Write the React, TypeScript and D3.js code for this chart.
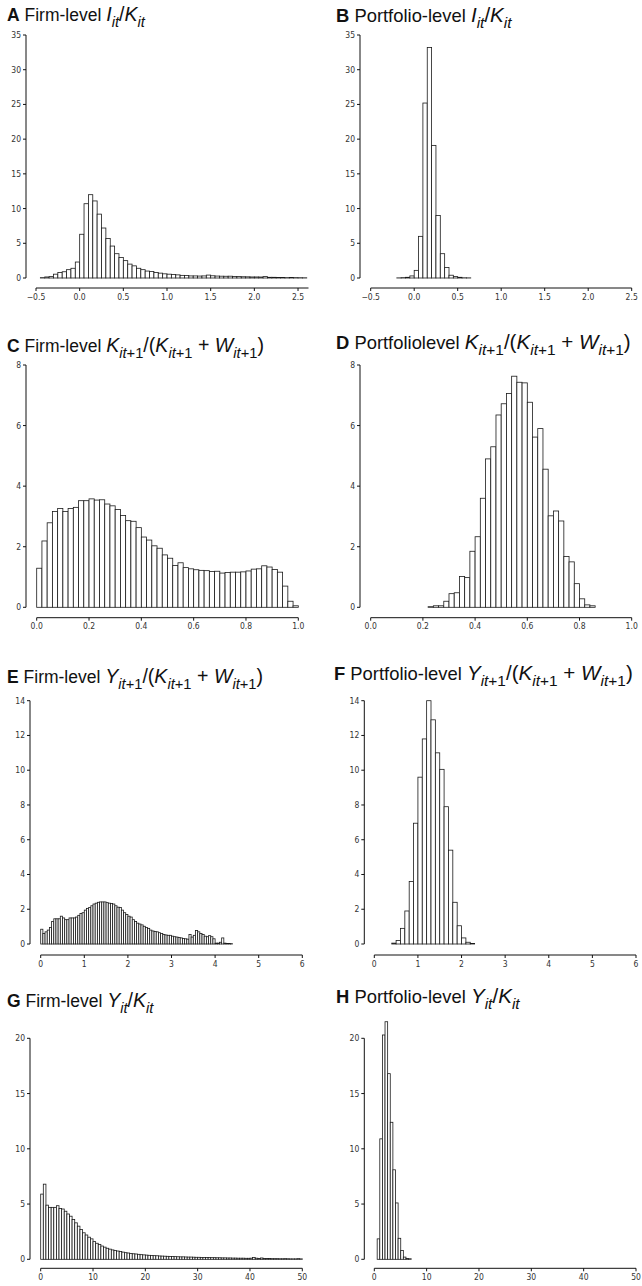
import React from "react";
import * as d3 from "d3";

const firmIK = [
  0.05, 0.15, 0.2, 0.55, 0.8, 0.9, 1.2, 1.4, 2.3, 6.3,
  10.7, 12.0, 11.1, 9.2, 7.2, 5.7, 4.6, 3.5, 2.95, 2.5,
  2.0, 1.75, 1.4, 1.2, 1.0, 0.95, 0.8, 0.7, 0.6, 0.55,
  0.5, 0.45, 0.38, 0.35, 0.3, 0.3, 0.28, 0.3, 0.42, 0.32,
  0.28, 0.26, 0.25, 0.26, 0.22, 0.2, 0.18, 0.17, 0.15, 0.15,
  0.14, 0.2, 0.1, 0.1, 0.08, 0.06, 0.05, 0.08, 0.05, 0.04, 0.03,
];
const firmIKStart = -0.45;
const portIK = [0.02, 0.05, 0.1, 0.3, 1.1, 6.0, 25.2, 33.2, 19.1, 9.0, 3.5, 1.5, 0.4, 0.2, 0.1, 0.03, 0.02];
const portIKStart = -0.2;
const ikBin = 0.05;

const firmKW = [
  1.29, 2.19, 2.79, 3.16, 3.26, 3.16, 3.26, 3.3, 3.52, 3.52,
  3.58, 3.54, 3.55, 3.41, 3.35, 3.23, 3.03, 2.86, 2.84, 2.63,
  2.32, 2.22, 2.03, 1.95, 1.73, 1.62, 1.38, 1.47, 1.31, 1.27,
  1.24, 1.22, 1.21, 1.18, 1.19, 1.13, 1.15, 1.16, 1.16, 1.17,
  1.2, 1.26, 1.27, 1.37, 1.33, 1.25, 1.16, 0.7, 0.2, 0.05,
];
const firmKWStart = 0;
const portKW = [
  0.02, 0.05, 0.05, 0.2, 0.45, 0.48, 1.02, 0.98, 1.85, 2.33,
  3.6, 4.9, 5.3, 6.35, 6.72, 7.06, 7.63, 7.43, 7.41, 6.77,
  5.62, 5.9, 4.56, 3.02, 3.18, 2.85, 1.68, 1.5, 0.78, 0.28, 0.08, 0.05,
];
const portKWStart = 0.22;
const kwBin = 0.02;

const firmYW = [
  0.85, 0.6, 0.7, 0.8, 0.95, 1.3, 1.45, 1.45, 1.45, 1.6,
  1.5, 1.4, 1.4, 1.5, 1.5, 1.5, 1.55, 1.65, 1.75, 1.8,
  1.95, 2.05, 2.1, 2.2, 2.3, 2.35, 2.4, 2.42, 2.42, 2.42,
  2.38, 2.35, 2.33, 2.3, 2.2, 2.12, 2.1, 1.95, 1.8, 1.7,
  1.6, 1.55, 1.4, 1.3, 1.2, 1.15, 1.1, 1.02, 0.95, 0.9,
  0.8, 0.75, 0.72, 0.7, 0.65, 0.6, 0.55, 0.52, 0.5, 0.5,
  0.45, 0.42, 0.4, 0.38, 0.35, 0.32, 0.3, 0.28, 0.55, 0.4,
  0.5, 0.78, 0.7, 0.6, 0.55, 0.45, 0.42, 0.48, 0.42, 0.3,
  0.05, 0.05, 0.1, 0.35, 0.05, 0.03, 0.03, 0.02,
];
const firmYWStart = 0;
const firmYWBin = 0.05;
const portYW = [0.05, 0.2, 0.9, 1.9, 3.6, 6.95, 9.6, 11.8, 14.0, 12.9, 11.0, 10.05, 7.9, 5.4, 2.4, 1.05, 0.35, 0.1, 0.03];
const portYWStart = 0.4;
const portYWBin = 0.1;

const firmYK = [
  5.9, 6.8, 4.9, 4.7, 4.7, 4.7, 4.85, 4.6, 4.55, 4.35,
  4.1, 3.9, 3.6, 3.3, 3.0, 2.7, 2.4, 2.2, 2.0, 1.85,
  1.6, 1.45, 1.35, 1.2, 1.1, 1.0, 0.92, 0.85, 0.8, 0.75,
  0.7, 0.65, 0.6, 0.57, 0.53, 0.5, 0.48, 0.45, 0.42, 0.4,
  0.38, 0.36, 0.35, 0.33, 0.32, 0.3, 0.29, 0.28, 0.27, 0.26,
  0.25, 0.24, 0.23, 0.22, 0.22, 0.21, 0.2, 0.2, 0.19, 0.18,
  0.18, 0.17, 0.17, 0.16, 0.16, 0.15, 0.15, 0.14, 0.14, 0.13,
  0.13, 0.12, 0.12, 0.11, 0.11, 0.1, 0.1, 0.1, 0.09, 0.09,
  0.1, 0.16, 0.1, 0.08, 0.12, 0.08, 0.07, 0.07, 0.06, 0.06,
  0.06, 0.05, 0.05, 0.06, 0.05, 0.04, 0.04, 0.04, 0.06, 0.04,
];
const firmYKStart = 0;
const portYK = [1.85, 10.9, 20.3, 21.5, 16.8, 12.4, 8.1, 5.1, 1.9, 0.8, 0.2, 0.08, 0.05];
const portYKStart = 0.55;
const ykBin = 0.5;

const ikTicks = [-0.5, 0, 0.5, 1, 1.5, 2, 2.5];
const kwTicks = [0, 0.2, 0.4, 0.6, 0.8, 1];
const ywTicks = [0, 1, 2, 3, 4, 5, 6];
const ykTicks = [0, 10, 20, 30, 40, 50];
const ikYTicks = [0, 5, 10, 15, 20, 25, 30, 35];
const kwYTicks = [0, 2, 4, 6, 8];
const ywYTicks = [0, 2, 4, 6, 8, 10, 12, 14];
const ykYTicks = [0, 5, 10, 15, 20];

type Seg = { t: string; i?: boolean; s?: boolean };

// italic variable with subscript "it" (+ optional upright "+1")
const v = (name: string, lead = false): Seg[] => {
  const out: Seg[] = [{ t: name, i: true }, { t: "it", i: true, s: true }];
  if (lead) out.push({ t: "+1", s: true });
  return out;
};
const ikMath: Seg[] = [...v("I"), { t: "/" }, ...v("K")];
const kwMath: Seg[] = [...v("K", true), { t: "/(" }, ...v("K", true), { t: " + " }, ...v("W", true), { t: ")" }];
const ywMath: Seg[] = [...v("Y", true), { t: "/(" }, ...v("K", true), { t: " + " }, ...v("W", true), { t: ")" }];
const ykMath: Seg[] = [...v("Y"), { t: "/" }, ...v("K")];

const titleFont = "'Liberation Sans', Arial, Helvetica, sans-serif";
const tickFont = "'Liberation Sans Narrow', 'Arial Narrow', 'DejaVu Sans Condensed', sans-serif";

function Title({ x, y, size, letter, label, math }: any) {
  let shift = 0;
  const big = size * 1.12;
  const spans = math.map((g: Seg, k: number) => {
    const target = g.s ? size * 0.32 : 0;
    const dy = target - shift;
    shift = target;
    return (
      <tspan key={k} dy={dy} fontStyle={g.i ? "italic" : "normal"} fontSize={g.s ? size * 0.84 : big}>
        {g.t}
      </tspan>
    );
  });
  return (
    <text x={x} y={y} fontSize={size} fontFamily={titleFont} fill="#111" style={{ whiteSpace: "pre" }}>
      <tspan fontWeight="bold">{letter}</tspan>
      <tspan>{" " + label + " "}</tspan>
      {spans}
    </text>
  );
}

function Panel({ p }: any) {
  const x = d3.scaleLinear().domain(p.xDomain).range(p.xRange);
  const y = d3.scaleLinear().domain([0, p.yMax]).range([p.yBottom, p.yTop]);
  const fmt = p.xFmt ? d3.format(p.xFmt) : d3.format("d");
  const bins = p.values.map((h: number, i: number) => ({
    x0: p.start + i * p.bin,
    x1: p.start + (i + 1) * p.bin,
    h,
  }));
  return (
    <g>
      <Title x={p.titleX} y={p.titleY} size={p.titleSize} letter={p.letter} label={p.label} math={p.math} />
      {bins.map((b: any, i: number) => (
        <rect
          key={i}
          x={x(b.x0)}
          y={y(b.h)}
          width={x(b.x1) - x(b.x0)}
          height={y(0) - y(b.h)}
          fill="#fff"
          stroke="#1a1a1a"
          strokeWidth={0.8}
        />
      ))}
      {/* y axis */}
      <line x1={p.yAxisX} x2={p.yAxisX} y1={y(p.yMax)} y2={y(0)} stroke="#111" strokeWidth={1} />
      {p.yTicks.map((t: number) => (
        <g key={t}>
          <line x1={p.yAxisX - 3} x2={p.yAxisX} y1={y(t)} y2={y(t)} stroke="#111" strokeWidth={1} />
          <text x={p.yAxisX - 5} y={y(t)} dy="0.35em" textAnchor="end" fontSize={8.5} fontStretch="condensed" fontFamily={tickFont} fill="#333">
            {t}
          </text>
        </g>
      ))}
      {/* x axis */}
      <line x1={p.xRange[0]} x2={p.xRange[1]} y1={p.xAxisY} y2={p.xAxisY} stroke="#111" strokeWidth={1} />
      {p.xTicks.map((t: number) => (
        <g key={t}>
          <line x1={x(t)} x2={x(t)} y1={p.xAxisY} y2={p.xAxisY + 3} stroke="#111" strokeWidth={1} />
          <text x={x(t)} y={p.xAxisY + 11.5} textAnchor="middle" fontSize={8.5} fontStretch="condensed" fontFamily={tickFont} fill="#333">
            {fmt(t)}
          </text>
        </g>
      ))}
    </g>
  );
}

const rowIK = { yMax: 35, yTop: 35, yBottom: 278, xAxisY: 288, yTicks: ikYTicks, xTicks: ikTicks, xFmt: ".1f", math: ikMath };
const rowKW = { yMax: 8, yTop: 365, yBottom: 607.3, xAxisY: 617.7, yTicks: kwYTicks, xTicks: kwTicks, xFmt: ".1f", math: kwMath };
const rowYW = { yMax: 14, yTop: 700.7, yBottom: 944, xAxisY: 955, yTicks: ywYTicks, xTicks: ywTicks, math: ywMath };
const rowYK = { yMax: 20, yTop: 1038.3, yBottom: 1259.3, xAxisY: 1268.3, yTicks: ykYTicks, xTicks: ykTicks, math: ykMath };

const panels = [
  { ...rowIK, letter: "A", label: "Firm-level", titleX: 7, titleY: 21, titleSize: 17.5, yAxisX: 26, xDomain: [-0.5, 2.62], xRange: [36, 308.5], values: firmIK, start: firmIKStart, bin: ikBin },
  { ...rowIK, letter: "B", label: "Portfolio-level", titleX: 336, titleY: 22, titleSize: 18.4, yAxisX: 360, xDomain: [-0.5, 2.5], xRange: [370.7, 631.7], values: portIK, start: portIKStart, bin: ikBin },
  { ...rowKW, letter: "C", label: "Firm-level", titleX: 7, titleY: 352, titleSize: 17.5, yAxisX: 26, xDomain: [0, 1], xRange: [36.7, 298.3], values: firmKW, start: firmKWStart, bin: kwBin },
  { ...rowKW, letter: "D", label: "Portfoliolevel", titleX: 336, titleY: 349, titleSize: 18.4, yAxisX: 360, xDomain: [0, 1], xRange: [370.7, 631.7], values: portKW, start: portKWStart, bin: kwBin },
  { ...rowYW, letter: "E", label: "Firm-level", titleX: 7, titleY: 683, titleSize: 17.5, yAxisX: 30, xDomain: [0, 6], xRange: [40.7, 302.3], values: firmYW, start: firmYWStart, bin: firmYWBin },
  { ...rowYW, letter: "F", label: "Portfolio-level", titleX: 334, titleY: 680, titleSize: 18.4, yAxisX: 364.3, xDomain: [0, 6], xRange: [374.3, 636], values: portYW, start: portYWStart, bin: portYWBin },
  { ...rowYK, letter: "G", label: "Firm-level", titleX: 7, titleY: 1007, titleSize: 17.5, yAxisX: 30, xDomain: [0, 50], xRange: [40.7, 302.3], values: firmYK, start: firmYKStart, bin: ykBin },
  { ...rowYK, letter: "H", label: "Portfolio-level", titleX: 336, titleY: 1003, titleSize: 18.4, yAxisX: 364.3, xDomain: [0, 50], xRange: [374.3, 636], values: portYK, start: portYKStart, bin: ykBin },
];

export default function App() {
  return (
    <svg
      width={642}
      height={1286}
      style={{ position: "absolute", left: 0, top: 0, background: "#fff" }}
    >
      <rect width={642} height={1286} fill="#fff" />
      {panels.map((p) => (
        <Panel key={p.letter} p={p} />
      ))}
    </svg>
  );
}
